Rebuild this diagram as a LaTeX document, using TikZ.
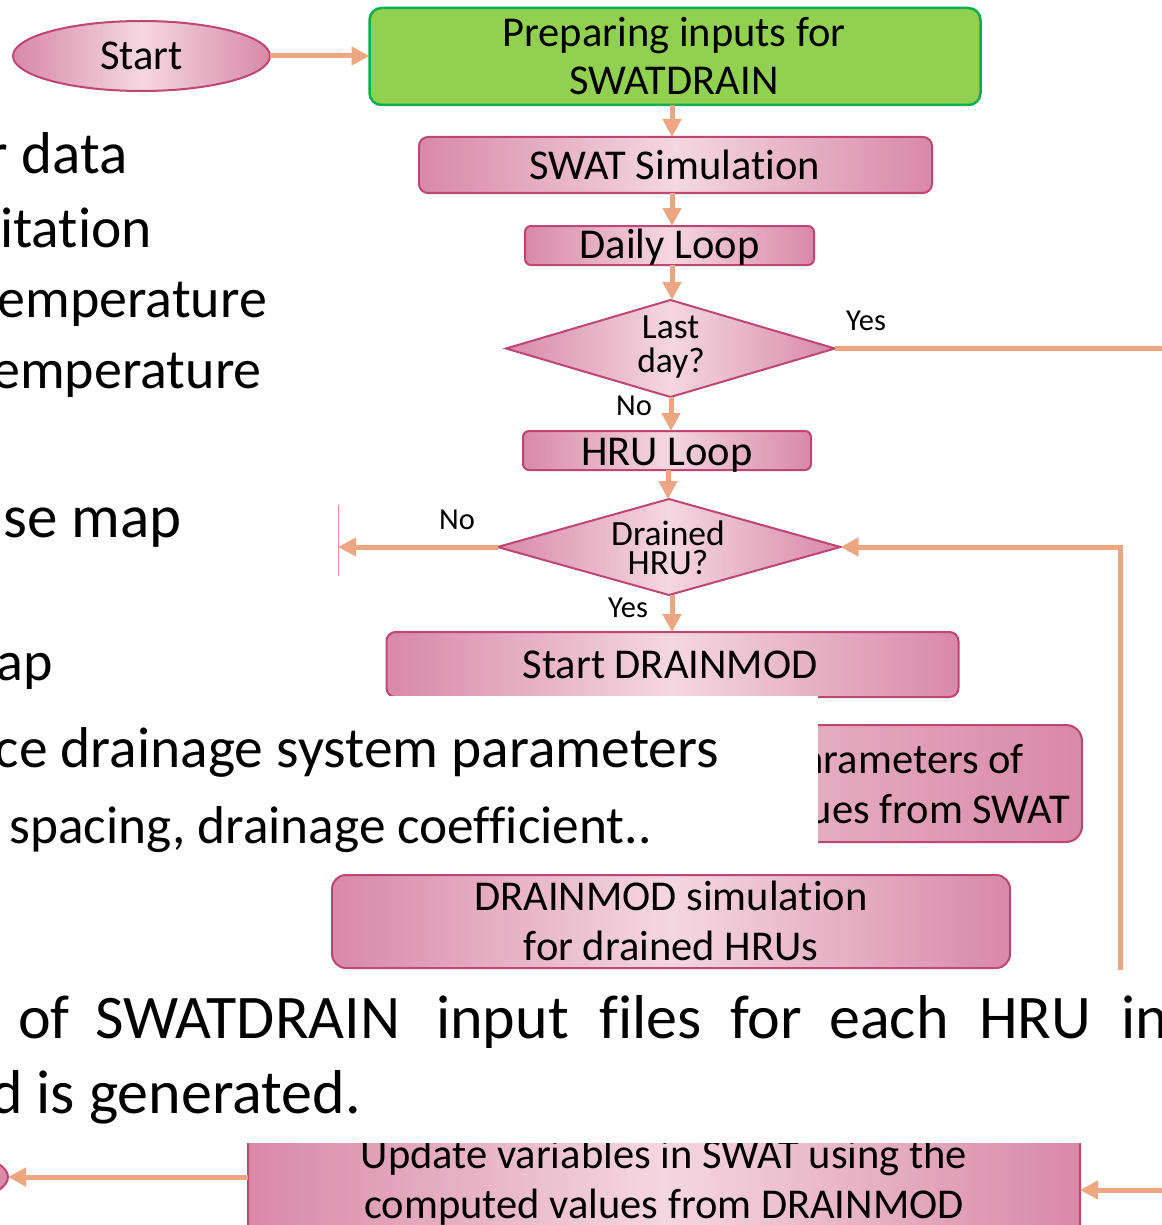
\documentclass[tikz,border=0pt]{standalone}
\usepackage{fontspec}
\setmainfont{Carlito}[Ligatures=NoCommon]
\usetikzlibrary{shapes.geometric,arrows.meta}
\definecolor{pinkdark}{RGB}{216,137,165}
\definecolor{pinklight}{RGB}{244,215,225}
\definecolor{pinkline}{RGB}{190,70,115}
\definecolor{arrowc}{RGB}{236,166,130}
\definecolor{greenfill}{RGB}{146,208,80}
\definecolor{greenline}{RGB}{0,176,80}
\newcommand\myfs[2]{\fontsize{#1}{#2}\selectfont}
\begin{document}
\begin{tikzpicture}[x=1pt,y=-1pt,
  pinkbox/.style={draw=pinkline, line width=2pt, rounded corners=9pt,
    left color=pinkdark, right color=pinkdark, middle color=pinklight,
    inner sep=0pt, outer sep=0pt},
  pinkell/.style={ellipse, draw=pinkline, line width=2pt,
    left color=pinkdark, right color=pinkdark, middle color=pinklight,
    inner sep=0pt, outer sep=0pt},
  pinkdia/.style={diamond, draw=pinkline, line width=2pt,
    left color=pinkdark, right color=pinkdark, middle color=pinklight,
    inner sep=0pt, outer sep=0pt},
  greenbox/.style={draw=greenline, line width=2.5pt, rounded corners=12pt,
    fill=greenfill, inner sep=0pt, outer sep=0pt},
  txt/.style={inner sep=0pt, font=\myfs{42.5}{48}},
  dtxt/.style={inner sep=0pt, font=\myfs{35.5}{40}},
  lbl/.style={inner sep=0pt, font=\myfs{30.5}{36}},
  big/.style={inner sep=0pt, font=\myfs{56}{70}},
  arr/.style={draw=arrowc, line width=5pt, -{Triangle[length=18pt,width=18pt]}},
  plainline/.style={draw=arrowc, line width=5pt}
]
\useasboundingbox (0,0) rectangle (1161,1225);
\fill[white] (0,0) rectangle (1161,1225);

% ---------------- flowchart layer ----------------
\node[pinkell, minimum width=257pt, minimum height=70pt] (start) at (141.5,56) {};
\node[txt, anchor=base] (tstart) at (141.5,70) {Start};

\node[greenbox, minimum width=611pt, minimum height=97pt] (prep) at (675,56.5) {};
\node[txt, anchor=base] (tprep1) at (674,47) {Preparing inputs for};
\node[txt, anchor=base] (tprep2) at (674,95) {SWATDRAIN};

\node[pinkbox, minimum width=513pt, minimum height=56pt] (swat) at (675.5,165) {};
\node[txt, anchor=base] (tswat) at (674.5,180) {SWAT Simulation};

\node[pinkbox, rounded corners=6pt, minimum width=289pt, minimum height=39pt] (daily) at (669.5,245.5) {};
\node[txt, anchor=base] (tdaily) at (669.5,258) {Daily Loop};

\node[pinkdia, minimum width=329pt, minimum height=97pt] (last) at (670.5,348.5) {};
\node[dtxt, anchor=base] (tlast1) at (670.5,338) {Last};
\node[dtxt, anchor=base] (tlast2) at (671,372) {day?};
\node[lbl, anchor=base west] (tyes1) at (846,330) {Yes};
\node[lbl, anchor=base west] (tno1) at (616,415) {No};

\node[pinkbox, rounded corners=6pt, minimum width=288pt, minimum height=39pt] (hru) at (667,450.5) {};
\node[txt, anchor=base] (thru) at (667,465) {HRU Loop};

\node[pinkdia, minimum width=343pt, minimum height=96pt] (drained) at (669,547) {};
\node[dtxt, anchor=base] (tdr1) at (668,545) {Drained};
\node[dtxt, anchor=base] (tdr2) at (668,574) {HRU?};
\node[lbl, anchor=base west] (tno2) at (439,529) {No};
\node[lbl, anchor=base west] (tyes2) at (608,617) {Yes};

\node[pinkbox, minimum width=572pt, minimum height=65pt] (sdm) at (672.5,664.5) {};
\node[txt, anchor=base] (tsdm) at (670,678) {Start DRAINMOD};

\node[pinkbox, rounded corners=16pt, left color=pinklight, right color=pinkdark,
      minimum width=600pt, minimum height=117pt] (params) at (782,783.5) {};
\node[txt, anchor=base east] (tpar1) at (1024,773) {parameters of};
\node[txt, anchor=base east] (tpar2) at (1070,823) {values from SWAT};

\node[pinkbox, rounded corners=14pt, minimum width=678pt, minimum height=93pt] (dsim) at (671,921.5) {};
\node[txt, anchor=base] (tdsim1) at (671,910) {DRAINMOD simulation};
\node[txt, anchor=base] (tdsim2) at (671,960) {for drained HRUs};

\node[pinkbox, rounded corners=16pt, minimum width=832pt, minimum height=120pt] (update) at (664,1188) {};
\node[txt, anchor=base] (tup1) at (664,1168) {Update variables in SWAT using the};
\node[txt, anchor=base] (tup2) at (664,1218) {computed values from DRAINMOD};

\node[pinkell, minimum width=256pt, minimum height=70pt] (endell) at (-120,1177) {};

% connectors
\coordinate (cA) at (672,0);
\coordinate (cB) at (671,0);
\coordinate (cC) at (668,0);
\draw[arr] (start.east) -- (prep.west |- start.east);
\draw[arr] (prep.south -| cA) -- (swat.north -| cA);
\draw[arr] (swat.south -| cA) -- (daily.north -| cA);
\draw[arr] (daily.south -| cA) -- (last.north -| cA);
\draw[arr] (last.south -| cB) -- (hru.north -| cB);
\draw[arr] (hru.south -| cC) -- (drained.north -| cC);
\draw[arr] (drained.south -| cA) -- (sdm.north -| cA);
\coordinate (yesend) at (1170,348.5);
\draw[plainline] (last.east) -- (yesend);
\coordinate (noend) at (338,547);
\draw[arr] (drained.west) -- (noend);
\draw[pinkline!60, line width=0.8pt] (338,505) -- (338,576);
\coordinate (ret) at (1120,975);
\draw[arr] (ret) |- (drained.east);
\draw[arr] ([yshift=11pt]update.west) -- (endell.east);
\coordinate (rin) at (1170,1190);
\draw[arr] (rin) -- (update.east |- rin);

% ---------------- overlaid text layer ----------------
\node[big, font=\myfs{59}{70}, anchor=base east] (l1) at (128,174) {Weather data};
\node[big, font=\myfs{57.5}{70}, anchor=base east] (l2) at (152,247) {Precipitation};
\node[big, anchor=base east] (l3) at (267,317) {Maximum temperature};
\node[big, anchor=base east] (l4) at (262,388) {Minimum temperature};
\node[big, font=\myfs{61}{70}, anchor=base east] (l5) at (182,537) {Land use map};
\node[big, anchor=base east] (l6) at (53,680) {Soil map};

\fill[white] (-5,695.5) rectangle (818,873);
\node[inner sep=0pt, font=\myfs{57.5}{64}, anchor=base east] (l7) at (719,767) {Subsurface drainage system parameters};
\node[inner sep=0pt, font=\myfs{53.3}{60}, anchor=base east] (l8) at (652,843) {Drain depth, spacing, drainage coefficient..};

\fill[white] (-5,970) rectangle (1170,1143);
\begin{scope}[every node/.style={inner sep=0pt, font=\myfs{62}{70}, anchor=base west}]
\node (b1) at (18,1038) {of};
\node (b2) at (95,1038) {SWATDRAIN};
\node (b3) at (436,1038) {input};
\node (b4) at (599,1038) {files};
\node (b5) at (730,1038) {for};
\node (b6) at (829,1038) {each};
\node (b7) at (979,1038) {HRU};
\node (b8) at (1121,1038) {in};
\end{scope}
\node[inner sep=0pt, font=\myfs{62}{70}, anchor=base east] (b9) at (361,1113) {watershed is generated.};
\end{tikzpicture}
\end{document}
